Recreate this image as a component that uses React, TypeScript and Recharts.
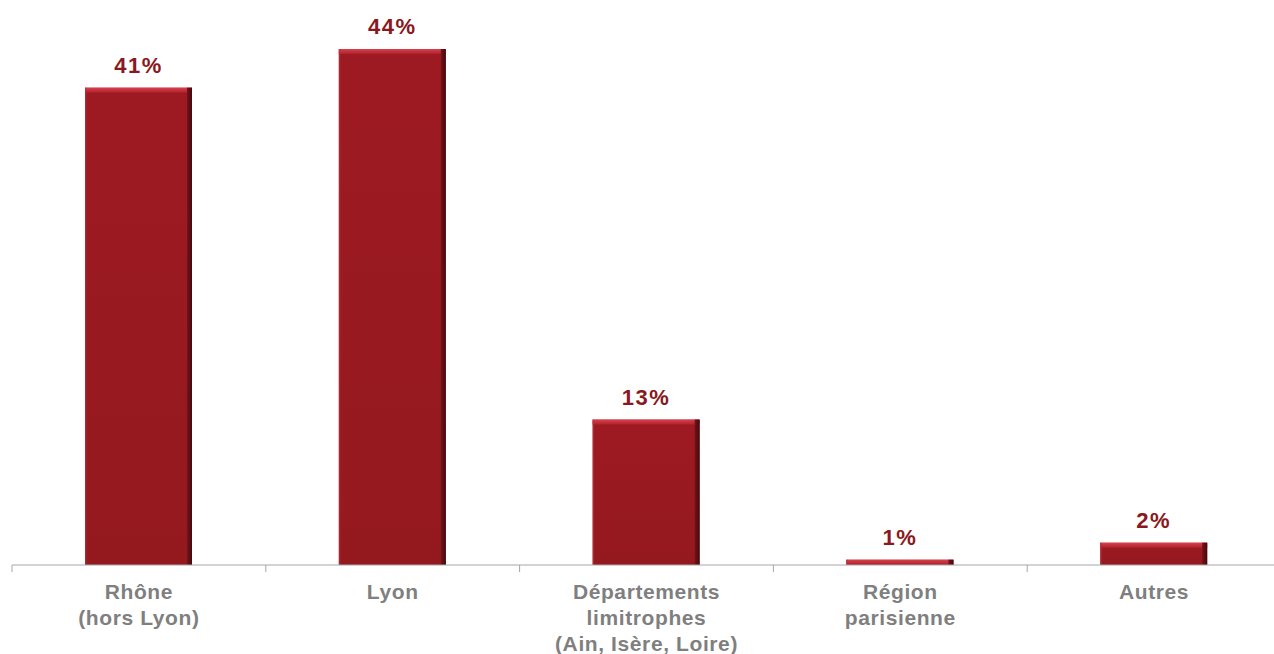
import { Bar, BarChart, LabelList, XAxis, YAxis } from "recharts";

const categories = [
  "Rhône\n(hors Lyon)",
  "Lyon",
  "Départements\nlimitrophes\n(Ain, Isère, Loire)",
  "Région\nparisienne",
  "Autres",
];
const shares = [40.7, 44, 12.4, 0.45, 1.9];
const shareLabels = ["41%", "44%", "13%", "1%", "2%"];

const data = categories.map((name, i) => ({ name, value: shares[i], label: shareLabels[i] }));

const FONT = "'Liberation Sans', Arial, sans-serif";

function BevelBar(props: any) {
  const { x, y, width, height } = props;
  if (!height || height <= 0) return null;
  const top = Math.min(5, height);
  const edge = Math.min(5, width);
  return (
    <g>
      <rect x={x} y={y} width={width} height={height} fill="url(#bar-body)" />
      <rect x={x} y={y} width={width} height={top} fill="url(#bar-top)" />
      <rect x={x + width - edge} y={y} width={edge} height={height} fill="url(#bar-right)" />
      <rect x={x} y={y} width={1.5} height={height} fill="#b8323c" opacity={0.6} />
    </g>
  );
}

function CategoryTick(props: any) {
  const { x, y, payload } = props;
  const lines = String(payload.value).split("\n");
  const half = payload.offset ?? 0;
  return (
    <g>
      <line x1={x - half} x2={x - half} y1={y - 8} y2={y - 1} stroke="#a6a6a6" strokeWidth={1} />
      <text
        x={x}
        y={y + 26}
        textAnchor="middle"
        fill="#7f7f7f"
        fontFamily={FONT}
        fontWeight="bold"
        fontSize={21}
        letterSpacing={0.6}
      >
        {lines.map((line, i) => (
          <tspan key={i} x={x} dy={i === 0 ? 0 : 26}>
            {line}
          </tspan>
        ))}
      </text>
    </g>
  );
}

export default function App() {
  return (
    <div
      style={{
        position: "fixed",
        left: 0,
        top: 0,
        width: 1274,
        height: 654,
        overflow: "hidden",
        background: "#ffffff",
      }}
    >
      <BarChart
        width={1281}
        height={654}
        data={data}
        margin={{ top: 49, right: 0, bottom: 0, left: 12 }}
      >
        <defs>
          <linearGradient id="bar-body" x1="0" x2="0" y1="0" y2="1">
            <stop offset="0%" stopColor="#9e1a22" />
            <stop offset="100%" stopColor="#94191f" />
          </linearGradient>
          <linearGradient id="bar-top" x1="0" x2="0" y1="0" y2="1">
            <stop offset="0%" stopColor="#d8404e" />
            <stop offset="100%" stopColor="#b0212b" />
          </linearGradient>
          <linearGradient id="bar-right" x1="0" x2="1" y1="0" y2="0">
            <stop offset="0%" stopColor="#761319" />
            <stop offset="100%" stopColor="#420a0e" />
          </linearGradient>
        </defs>
        <XAxis
          dataKey="name"
          interval={0}
          height={89}
          axisLine={{ stroke: "#a6a6a6", strokeWidth: 1 }}
          tickLine={false}
          tick={<CategoryTick />}
        />
        <YAxis hide domain={[0, 44]} />
        <Bar dataKey="value" barSize={107} shape={<BevelBar />} isAnimationActive={false}>
          <LabelList
            dataKey="label"
            position="top"
            offset={15}
            fill="#8a1820"
            fontFamily={FONT}
            fontWeight="bold"
            fontSize={22}
            letterSpacing={1.5}
          />
        </Bar>
      </BarChart>
    </div>
  );
}
